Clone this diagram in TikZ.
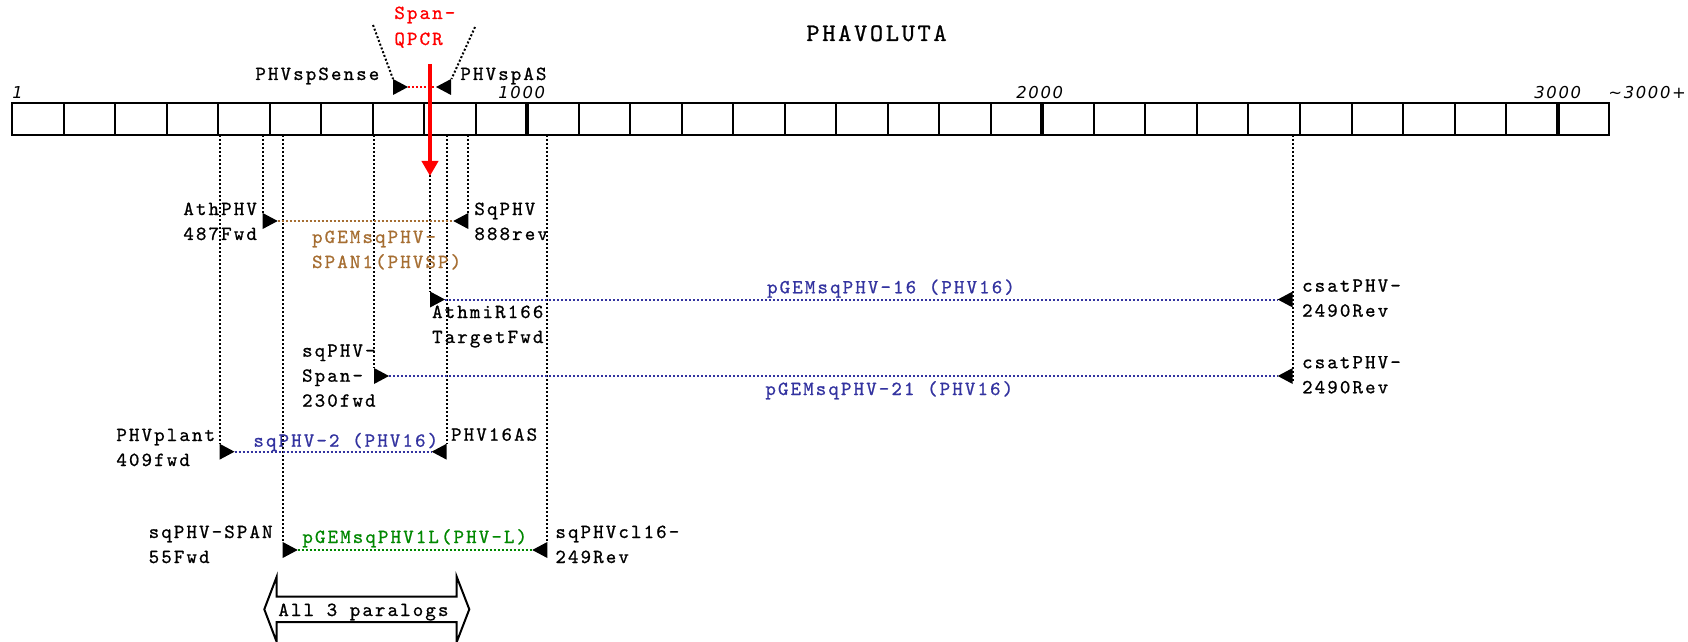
\documentclass[tikz,border=0pt]{standalone}
\usepackage{fontspec}
\usetikzlibrary{arrows.meta}
\newfontfamily\cour{lmmono10-regular.otf}[LetterSpace=10.5, FakeBold=0.8]
\newfontfamily\numf{DejaVu Sans}[LetterSpace=10]
\definecolor{pbrown}{RGB}{166,110,50}
\definecolor{pblue}{RGB}{51,51,160}
\definecolor{pgreen}{RGB}{0,136,0}
\begin{document}
\begin{tikzpicture}[x=0.5pt,y=-0.5pt,
  lbl/.style={anchor=base west, inner sep=0pt, align=left, font=\cour\fontsize{10pt}{12.5pt}\selectfont},
  num/.style={anchor=base west, inner sep=0pt, font=\numf\itshape\fontsize{8.2pt}{10pt}\selectfont},
  vdot/.style={line width=1pt, dash pattern=on 1pt off 1pt},
  fwd/.pic={\fill (-15,-8) -- (0,0) -- (-15,8) -- cycle;},
  rev/.pic={\fill (15,-8) -- (0,0) -- (15,8) -- cycle;}]
\clip (0,0) rectangle (1688,642);
\fill[white] (0,0) rectangle (1688,642);

% ruler
\draw[line width=1.2pt] (12,103) rectangle (1609,135);
\foreach \k in {1,...,30}{
  \pgfmathsetmacro{\xx}{12+\k*51.52}
  \ifnum\k=10 \draw[line width=2pt] (\xx,103) -- (\xx,135);
  \else\ifnum\k=20 \draw[line width=2pt] (\xx,103) -- (\xx,135);
  \else\ifnum\k=30 \draw[line width=2pt] (\xx,103) -- (\xx,135);
  \else \draw[line width=1pt] (\xx,103) -- (\xx,135);
  \fi\fi\fi}
\node[num] (n1) at (12,99) {1};
\node[num] (n1000) at (498,99) {1000};
\node[num] (n2000) at (1016,99) {2000};
\node[num] (n3000) at (1534,99) {3000};
\node[num] (n3000p) at (1608,99) {\char"007E 3000+};

% title
\node[anchor=base west, inner sep=0pt, font=\cour\fontsize{12.6pt}{14pt}\selectfont] (title) at (806,41) {PHAVOLUTA};

% Span-QPCR
\node[lbl, text=red, font=\cour\fontsize{10pt}{13pt}\selectfont] (spanq) at (394,45) {Span-\\QPCR};
\path (408,87) coordinate (spS) pic {fwd};
\path (436,87) coordinate (spA) pic {rev};
\coordinate (spSl) at (373,25);
\coordinate (spAl) at (475,27);
\draw[vdot] (spSl) -- (393,79);
\draw[vdot] (spAl) -- (451.5,79);
\draw[vdot, red] (spS) -- (spA);
\node[lbl] (phvsps) at (255,80) {PHVspSense};
\node[lbl] (phvspas) at (460,80) {PHVspAS};

% vertical dotted guides
\draw[vdot] (219.5,135) -- (219.5,444);
\draw[vdot] (262.7,135) -- (262.7,213);
\draw[vdot] (282.7,135) -- (282.7,542);
\draw[vdot] (374,135) -- (374,368);
\draw[vdot] (430,135) -- (430,291.5);
\draw[vdot] (446.7,135) -- (446.7,444);
\draw[vdot] (468.3,135) -- (468.3,213);
\draw[vdot] (547.3,135) -- (547.3,542);
\draw[vdot] (1292.7,135) -- (1292.7,382);

% red arrow
\coordinate (redtop) at (430,64);
\coordinate (redtip) at (430,176);
\draw[red, line width=2pt, -{Triangle[width=8pt,length=7.5pt]}] (redtop) -- (redtip);

% PHVSP amplicon
\path (277.7,221) coordinate (athF) pic {fwd};
\path (453.3,221) coordinate (sq888) pic {rev};
\draw[vdot, pbrown] (athF) -- (sq888);
\node[lbl] (athl) at (183,240) {AthPHV\\487Fwd};
\node[lbl] (sql) at (474,240) {SqPHV\\888rev};
\node[lbl, text=pbrown] (phvsp) at (311.7,268) {pGEMsqPHV-\\SPAN1(PHVSP)};

% PHV16 amplicon 1
\path (445,299.5) coordinate (miF) pic {fwd};
\path (1277.7,299.5) coordinate (cs1) pic {rev};
\draw[vdot, pblue] (miF) -- (cs1);
\node[lbl] (mil) at (431.7,343) {AthmiR166\\TargetFwd};
\node[lbl] (cs1l) at (1301.7,316.7) {csatPHV-\\2490Rev};
\node[lbl, text=pblue] (p16) at (766.7,293.3) {pGEMsqPHV-16 (PHV16)};

% PHV16 amplicon 2
\path (389,376) coordinate (s230) pic {fwd};
\path (1277.7,376) coordinate (cs2) pic {rev};
\draw[vdot, pblue] (s230) -- (cs2);
\node[lbl] (s230l) at (301.7,406.7) {sqPHV-\\Span-\\230fwd};
\node[lbl] (cs2l) at (1301.7,393.3) {csatPHV-\\2490Rev};
\node[lbl, text=pblue] (p21) at (765,395) {pGEMsqPHV-21 (PHV16)};

% sqPHV-2
\path (234.5,451.7) coordinate (plF) pic {fwd};
\path (431.7,451.7) coordinate (asR) pic {rev};
\draw[vdot, pblue] (plF) -- (asR);
\node[lbl] (pll) at (116,466) {PHVplant\\409fwd};
\node[lbl] (asl) at (450.7,440.7) {PHV16AS};
\node[lbl, text=pblue] (sq2) at (253,446.7) {sqPHV-2 (PHV16)};

% PHV-L
\path (297.7,550) coordinate (s55) pic {fwd};
\path (532.3,550) coordinate (cl16) pic {rev};
\draw[vdot, pgreen] (s55) -- (cl16);
\node[lbl] (s55l) at (148.3,563) {sqPHV-SPAN\\55Fwd};
\node[lbl] (cl16l) at (555,563) {sqPHVcl16-\\249Rev};
\node[lbl, text=pgreen] (phvl) at (302,543) {pGEMsqPHV1L(PHV-L)};

% All 3 paralogs double arrow
\draw[line width=1pt, fill=white, line join=miter]
  (264.3,609.3) -- (276.7,576.7) -- (276.7,596.5) -- (456.7,596.5) -- (456.7,576.7)
  -- (469.3,609.3) -- (456.7,642) -- (456.7,622) -- (276.7,622) -- (276.7,642) -- cycle;
\node[lbl] (all3) at (278,616) {All 3 paralogs};
\end{tikzpicture}
\end{document}
